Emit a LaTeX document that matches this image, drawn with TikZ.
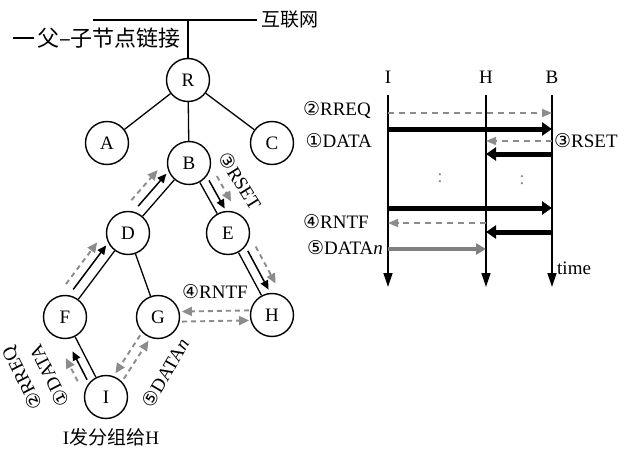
\documentclass[tikz,border=0pt]{standalone}
\usepackage{fontspec}
\setmainfont{Liberation Serif}
\newfontfamily\cjk{Noto Sans CJK SC}
\newfontfamily\sym{DejaVu Sans}
\usetikzlibrary{calc,arrows.meta}
\newcommand\cir[1]{{\sym #1}}
\newcommand\offarr[6]{\draw[#1] ($(#2)!#4!(#3)!#6!90:(#3)$) -- ($(#3)!#5!(#2)!#6!-90:(#2)$);}
\begin{document}
\begin{tikzpicture}[x=1pt,y=-1pt,font=\fontsize{19}{22}\selectfont,
  nd/.style={circle,draw,line width=1.4pt,minimum size=43pt,inner sep=0pt},
  edge/.style={line width=1.3pt},
  blk/.style={line width=1.5pt,-{Triangle[length=9pt,width=8pt]}},
  gry/.style={black!45,line width=1.9pt,dash pattern=on 5pt off 4pt,-{Triangle[length=10pt,width=9pt]}},
  life/.style={line width=1.3pt,-{Triangle[length=14pt,width=9pt]}},
  fat/.style={line width=5pt,-{Triangle[length=10pt,width=13pt]}},
  gfat/.style={black!50,line width=4.5pt,-{Triangle[length=10pt,width=11pt]}},
  gdash/.style={black!45,line width=1.6pt,dash pattern=on 6pt off 5pt,-{Triangle[length=10pt,width=8pt]}},
  lbl/.style={inner sep=1pt}]
\useasboundingbox (0,0) rectangle (624,452);

% tree nodes
\node[nd] (R) at (188,80) {R};
\node[nd] (A) at (107,143) {A};
\node[nd] (C) at (272,143) {C};
\node[nd] (B) at (189,163) {B};
\node[nd] (D) at (128,233) {D};
\node[nd] (E) at (228,233) {E};
\node[nd] (F) at (65,317) {F};
\node[nd] (G) at (158,317) {G};
\node[nd] (H) at (272,315) {H};
\node[nd] (I) at (106,397) {I};

% internet line
\coordinate (netL) at (93,20);
\coordinate (netR) at (257,20);
\draw[edge] (netL) -- (netR);
\node[anchor=west,lbl] (net) at (260,20) {\cjk 互联网};
\draw[edge] (R) -- (R |- netL);

% legend
\coordinate (lg1) at (13,38);
\coordinate (lg2) at (34,38);
\draw[line width=2.2pt] (lg1) -- (lg2);
\node[anchor=west,lbl,font=\fontsize{22}{24}\selectfont] (legend) at (36,38) {\cjk 父–子节点链接};

% tree edges
\draw[edge] (R) -- (A);
\draw[edge] (R) -- (B);
\draw[edge] (R) -- (C);
\draw[edge] (B) -- (D);
\draw[edge] (B) -- (E);
\draw[edge] (D) -- (F);
\draw[edge] (D) -- (G);
\draw[edge] (E) -- (H);
\draw[edge] (F) -- (I);

% message arrows along the tree
\offarr{blk}{D}{B}{27pt}{23pt}{10pt}
\offarr{gry}{D}{B}{27pt}{26pt}{19pt}
\offarr{blk}{F}{D}{27pt}{23pt}{10pt}
\offarr{gry}{F}{D}{27pt}{26pt}{19pt}
\offarr{blk}{I}{F}{24pt}{34pt}{9pt}
\offarr{gry}{I}{F}{27pt}{37pt}{18pt}
\offarr{blk}{B}{E}{25pt}{23pt}{9pt}
\offarr{gry}{B}{E}{25pt}{26pt}{18pt}
\offarr{blk}{E}{H}{25pt}{24pt}{9pt}
\offarr{gry}{E}{H}{25pt}{26pt}{18pt}
\offarr{gry}{H}{G}{23pt}{24pt}{-5pt}
\offarr{gry}{G}{H}{24pt}{23pt}{-5pt}
\offarr{gry}{G}{I}{25pt}{25pt}{-5pt}
\offarr{gry}{I}{G}{25pt}{25pt}{-5pt}

% tree labels
\node[lbl,rotate=-58] (tRSET) at (240,181) {\cir{③}RSET};
\node[lbl] (tRNTF) at (215,292) {\cir{④}RNTF};
\node[lbl,rotate=60] (tDATAn) at (165,373) {\cir{⑤}DATA\textit{n}};
\node[lbl,rotate=117] (tDATA) at (49,376) {\cir{①}DATA};
\node[lbl,rotate=117] (tRREQ) at (23,378) {\cir{②}RREQ};
\node[lbl] (send) at (111,437) {I{\cjk 发分组给}H};

% time diagram
\node[lbl] (hI) at (388,77) {I};
\node[lbl] (hH) at (486,77) {H};
\node[lbl] (hB) at (552,77) {B};
\coordinate (It) at (388,95);
\coordinate (Ib) at (388,287);
\coordinate (Ht) at (486,95);
\coordinate (Hb) at (486,287);
\coordinate (Bt) at (552,95);
\coordinate (Bb) at (552,287);
\draw[life] (It) -- (Ib);
\draw[life] (Ht) -- (Hb);
\draw[life] (Bt) -- (Bb);

\coordinate (r1) at (0,113);
\coordinate (r2) at (0,129);
\coordinate (r3) at (0,141);
\coordinate (r4) at (0,154);
\coordinate (r5) at (0,208);
\coordinate (r6) at (0,223);
\coordinate (r7) at (0,232);
\coordinate (r8) at (0,249);
\draw[gdash] (It|-r1) -- (Bt|-r1);
\draw[fat] (It|-r2) -- (Bt|-r2);
\draw[gdash] (Bt|-r3) -- (Ht|-r3);
\draw[fat] (Bt|-r4) -- (Ht|-r4);
\draw[fat] (It|-r5) -- (Bt|-r5);
\draw[gdash] (Ht|-r6) -- (It|-r6);
\draw[fat] (Bt|-r7) -- (Ht|-r7);
\draw[gfat] (It|-r8) -- (Ht|-r8);

\node[lbl,anchor=east] (lRREQ) at (372,110) {\cir{②}RREQ};
\node[lbl,anchor=east] (lDATA) at (373,141) {\cir{①}DATA};
\node[lbl,anchor=west] (lRSET) at (553,141) {\cir{③}RSET};
\node[lbl,anchor=east] (lRNTF) at (370,222) {\cir{④}RNTF};
\node[lbl,anchor=east] (lDATAn) at (384,248) {\cir{⑤}DATA\textit{n}};
\node[lbl,anchor=west] (ltime) at (556,268) {time};
\node[lbl,black!45] (dots1) at (440,178) {:};
\node[lbl,black!45] (dots2) at (522,180) {:};
\end{tikzpicture}
\end{document}
